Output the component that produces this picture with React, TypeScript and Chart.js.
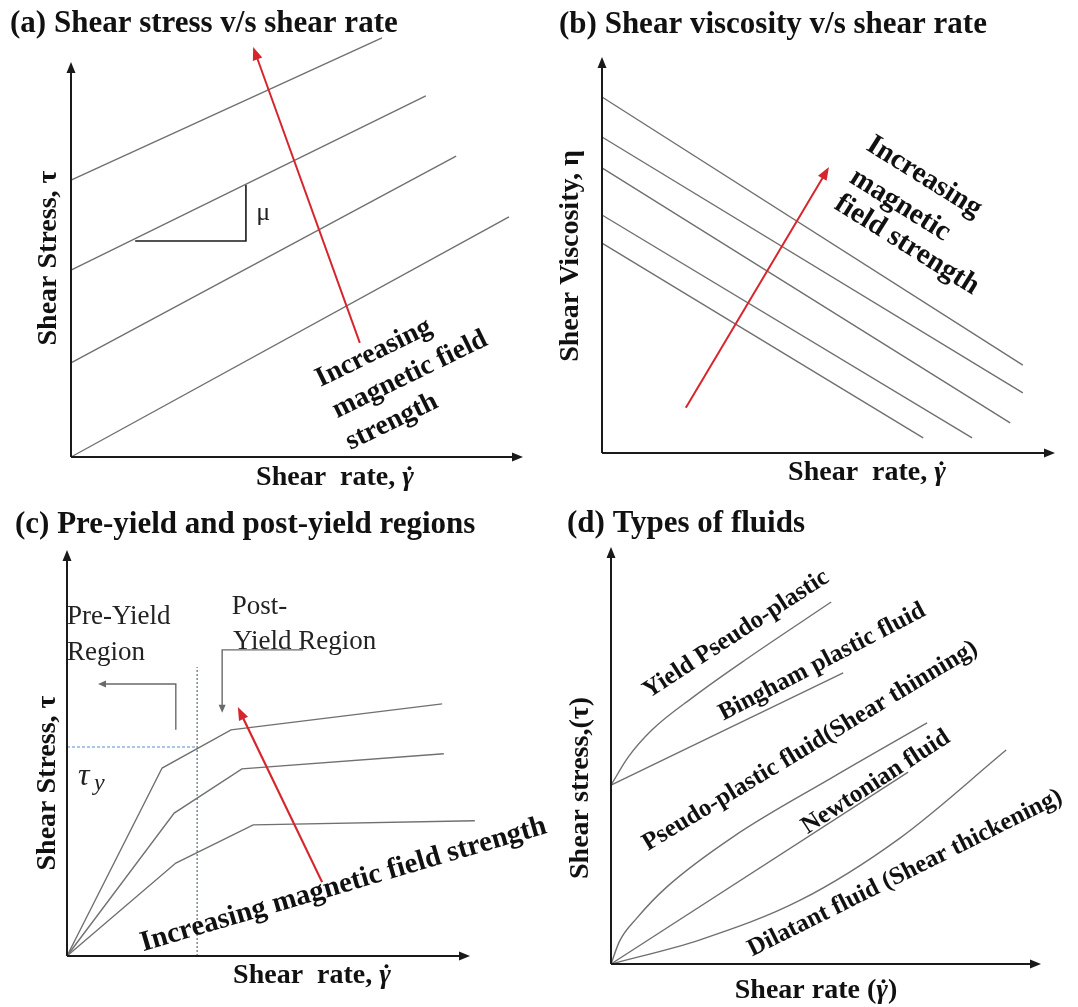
import React, { useEffect, useRef } from "react";
import { Chart, registerables } from "chart.js";
Chart.register(...registerables);

type Pt = [number, number];
type XY = [number, number];

const SERIF = '"Liberation Serif", "Times New Roman", Times, serif';
const LINE = "#707070";
const RED = "#d6262d";
const INK = "#111111";

// ---------------- (a) Shear stress v/s shear rate ----------------
const aTitle = "(a) Shear stress v/s shear rate";
const aYLabel = "Shear Stress, τ";
const aStress: Pt[][] = [
  [[0, 7.01], [6.88, 10.61]],
  [[0, 4.73], [7.85, 9.14]],
  [[0, 2.38], [8.52, 7.62]],
  [[0, 0], [9.69, 6.08]],
];
const aSlope: Pt[] = [[1.42, 5.47], [3.87, 5.47], [3.87, 6.89]];
const aField: Pt[] = [[6.39, 2.89], [4.03, 10.38]];
const aNote = ["Increasing", "magnetic field", "strength"];

// ---------------- (b) Shear viscosity v/s shear rate ----------------
const bTitle = "(b) Shear viscosity v/s shear rate";
const bYLabel = "Shear Viscosity, η";
const bViscosity: Pt[][] = [
  [[0, 8.99], [9.29, 2.22]],
  [[0, 7.98], [9.29, 1.52]],
  [[0, 7.2], [9.01, 0.76]],
  [[0, 6.01], [8.17, 0.38]],
  [[0, 5.3], [7.09, 0.38]],
];
const bField: Pt[] = [[1.85, 1.14], [5.01, 7.22]];
const bNote = ["Increasing", "magnetic", "field strength"];

// ---------------- (c) Pre-yield and post-yield regions ----------------
const cTitle = "(c) Pre-yield and post-yield regions";
const cYLabel = "Shear Stress, τ";
const cStress: Pt[][] = [
  [[0, 0], [2.36, 4.63], [4.07, 5.57], [9.31, 6.21]],
  [[0, 0], [2.66, 3.52], [4.34, 4.61], [9.35, 4.98]],
  [[0, 0], [2.7, 2.29], [4.62, 3.23], [10.12, 3.33]],
];
const cYieldRate: Pt[] = [[3.23, 0], [3.23, 7.12]];
const cYieldStress: Pt[] = [[0, 5.15], [3.23, 5.15]];
const cPreArrow: Pt[] = [[2.7, 5.57], [2.7, 6.7], [0.77, 6.7]];
const cPostArrow: Pt[] = [[5.86, 7.54], [3.85, 7.54], [3.85, 5.99]];
const cField: Pt[] = [[6.33, 1.82], [4.24, 6.13]];
const cPreLabel = ["Pre-Yield", "Region"];
const cPostLabel = ["Post-", "Yield Region"];
const cNote = "Increasing magnetic field strength";

// ---------------- (d) Types of fluids ----------------
const dTitle = "(d) Types of fluids";
const dYLabel = "Shear stress,(τ)";
const dFluids = [
  "Yield Pseudo-plastic",
  "Bingham plastic fluid",
  "Pseudo-plastic fluid(Shear thinning)",
  "Newtonian fluid",
  "Dilatant fluid (Shear thickening)",
];
const dYieldPseudo: Pt[] = [[0, 4.29], [0.4, 4.96], [0.95, 5.61], [1.91, 6.4], [3.12, 7.29], [5.12, 8.68]];
const dBingham: Pt[] = [[0, 4.29], [5.4, 6.98]];
const dPseudo: Pt[] = [[0, 0], [0.2, 0.55], [0.6, 1.1], [1.3, 1.85], [2.84, 3.05], [5.16, 4.48], [7.35, 5.78]];
const dNewtonian: Pt[] = [[0, 0], [6.91, 4.6]];
const dDilatant: Pt[] = [[0, 0], [2.07, 0.58], [4.4, 1.53], [6.72, 3.02], [9.19, 5.13]];

// ---------------- helpers ----------------
const ds = (pts: Pt[], extra: any = {}) => ({
  data: pts.map(([x, y]) => ({ x, y })),
  borderColor: LINE,
  borderWidth: 1.4,
  pointRadius: 0,
  fill: false,
  tension: 0,
  clip: false,
  ...extra,
});
const curve = { cubicInterpolationMode: "monotone" };

function head(ctx: CanvasRenderingContext2D, from: XY, to: XY, len: number, hw: number, color: string) {
  const a = Math.atan2(to[1] - from[1], to[0] - from[0]);
  const bx = to[0] - len * Math.cos(a);
  const by = to[1] - len * Math.sin(a);
  ctx.fillStyle = color;
  ctx.beginPath();
  ctx.moveTo(to[0], to[1]);
  ctx.lineTo(bx + hw * Math.sin(a), by - hw * Math.cos(a));
  ctx.lineTo(bx - hw * Math.sin(a), by + hw * Math.cos(a));
  ctx.closePath();
  ctx.fill();
}

function arrowPath(ctx: CanvasRenderingContext2D, pts: XY[], color: string, lw: number, len: number, hw: number) {
  const n = pts.length;
  const from = pts[n - 2];
  const to = pts[n - 1];
  const a = Math.atan2(to[1] - from[1], to[0] - from[0]);
  const end: XY = [to[0] - (len - 1) * Math.cos(a), to[1] - (len - 1) * Math.sin(a)];
  ctx.strokeStyle = color;
  ctx.lineWidth = lw;
  ctx.setLineDash([]);
  ctx.beginPath();
  ctx.moveTo(pts[0][0], pts[0][1]);
  for (let i = 1; i < n - 1; i++) ctx.lineTo(pts[i][0], pts[i][1]);
  ctx.lineTo(end[0], end[1]);
  ctx.stroke();
  head(ctx, from, to, len, hw, color);
}

function txt(
  ctx: CanvasRenderingContext2D,
  s: string,
  x: number,
  y: number,
  font: string,
  o: { align?: CanvasTextAlign; baseline?: CanvasTextBaseline; rot?: number; color?: string } = {}
) {
  ctx.save();
  ctx.translate(x, y);
  if (o.rot) ctx.rotate((o.rot * Math.PI) / 180);
  ctx.font = font;
  ctx.fillStyle = o.color || INK;
  ctx.textAlign = o.align || "center";
  ctx.textBaseline = o.baseline || "middle";
  ctx.fillText(s, 0, 0);
  ctx.restore();
}

function rateLabel(ctx: CanvasRenderingContext2D, pre: string, post: string, cx: number, by: number, size: number) {
  const fb = `bold ${size}px ${SERIF}`;
  const fi = `italic bold ${size}px ${SERIF}`;
  ctx.save();
  ctx.font = fb;
  const w1 = ctx.measureText(pre).width;
  const w3 = ctx.measureText(post).width;
  ctx.font = fi;
  const w2 = ctx.measureText("γ").width;
  const x = cx - (w1 + w2 + w3) / 2;
  ctx.textAlign = "left";
  ctx.textBaseline = "alphabetic";
  ctx.fillStyle = INK;
  ctx.font = fb;
  ctx.fillText(pre, x, by);
  ctx.font = fi;
  ctx.fillText("γ", x + w1, by);
  ctx.beginPath();
  ctx.arc(x + w1 + w2 * 0.62, by - size * 0.6, size * 0.07, 0, Math.PI * 2);
  ctx.fill();
  ctx.font = fb;
  ctx.fillText(post, x + w1 + w2, by);
  ctx.restore();
}

function yLabel(ctx: CanvasRenderingContext2D, s: string, bx: number, cy: number, size: number) {
  txt(ctx, s, bx, cy, `bold ${size}px ${SERIF}`, { rot: -90, baseline: "alphabetic" });
}

function title(ctx: CanvasRenderingContext2D, s: string, x: number, by: number) {
  txt(ctx, s, x, by, `bold 31px ${SERIF}`, { align: "left", baseline: "alphabetic" });
}

type Px = (x: number, y: number) => XY;

function axes(ctx: CanvasRenderingContext2D, P: Px) {
  arrowPath(ctx, [P(0, 0), P(10, 0)], "#1a1a1a", 2, 11, 4.5);
  arrowPath(ctx, [P(0, 0), P(0, 10)], "#1a1a1a", 2, 11, 4.5);
}

type Spec = {
  left: number;
  top: number;
  width: number;
  height: number;
  pad: { left: number; right: number; top: number; bottom: number };
  datasets: any[];
  draw: (ctx: CanvasRenderingContext2D, P: Px) => void;
};

function Panel({ spec }: { spec: Spec }) {
  const ref = useRef<HTMLCanvasElement>(null);
  useEffect(() => {
    const canvas = ref.current!;
    const chart = new Chart(canvas, {
      type: "line",
      data: { datasets: spec.datasets },
      options: {
        responsive: false,
        animation: false,
        devicePixelRatio: 1,
        events: [],
        layout: { padding: spec.pad },
        plugins: { legend: { display: false }, tooltip: { enabled: false }, title: { display: false } },
        scales: {
          x: { type: "linear", min: 0, max: 10, display: false },
          y: { type: "linear", min: 0, max: 10, display: false },
        },
      } as any,
      plugins: [
        {
          id: "schematic",
          afterDatasetsDraw(ch: any) {
            const ctx = ch.ctx as CanvasRenderingContext2D;
            const P: Px = (x, y) => [ch.scales.x.getPixelForValue(x), ch.scales.y.getPixelForValue(y)];
            ctx.save();
            spec.draw(ctx, P);
            ctx.restore();
          },
        },
      ],
    });
    return () => chart.destroy();
  }, []);
  return (
    <canvas
      ref={ref}
      width={spec.width}
      height={spec.height}
      style={{ position: "absolute", left: spec.left, top: spec.top, width: spec.width, height: spec.height }}
    />
  );
}

const noteFont = (s: number) => `bold ${s}px ${SERIF}`;

const specA: Spec = {
  left: 0,
  top: 0,
  width: 538,
  height: 500,
  pad: { left: 71, right: 15, top: 62, bottom: 43 },
  datasets: [...aStress.map((l) => ds(l)), ds(aSlope, { borderColor: "#1a1a1a", borderWidth: 1.6 })],
  draw: (ctx, P) => {
    axes(ctx, P);
    arrowPath(ctx, [P(...aField[0]), P(...aField[1])], RED, 2, 13, 5);
    txt(ctx, "μ", ...P(4.25, 6.18), `26px ${SERIF}`, { color: "#222" });
    const pos: Pt[] = [[6.7, 2.63], [7.5, 2.08], [7.1, 0.89]];
    aNote.forEach((s, i) => txt(ctx, s, ...P(...pos[i]), noteFont(28), { rot: -26 }));
    title(ctx, aTitle, 10, 32);
    yLabel(ctx, aYLabel, 56, 258, 28);
    rateLabel(ctx, "Shear  rate, ", "", 335, 485, 28);
  },
};

const specB: Spec = {
  left: 538,
  top: 0,
  width: 540,
  height: 500,
  pad: { left: 64, right: 23, top: 57, bottom: 47 },
  datasets: bViscosity.map((l) => ds(l)),
  draw: (ctx, P) => {
    axes(ctx, P);
    arrowPath(ctx, [P(...bField[0]), P(...bField[1])], RED, 2, 13, 5);
    const pos: Pt[] = [[7.11, 6.97], [6.58, 6.26], [6.73, 5.25]];
    bNote.forEach((s, i) => txt(ctx, s, ...P(...pos[i]), noteFont(29), { rot: 32 }));
    title(ctx, bTitle, 21, 33);
    yLabel(ctx, bYLabel, 40, 256, 28);
    rateLabel(ctx, "Shear  rate, ", "", 329, 480, 28);
  },
};

const specC: Spec = {
  left: 0,
  top: 500,
  width: 560,
  height: 507,
  pad: { left: 67, right: 90, top: 50, bottom: 51 },
  datasets: [
    ...cStress.map((l) => ds(l)),
    ds(cYieldRate, { borderColor: "#7d8a9c", borderWidth: 1.5, borderDash: [2, 2] }),
    ds(cYieldStress, { borderColor: "#8fb2de", borderWidth: 1.5, borderDash: [3, 2] }),
  ],
  draw: (ctx, P) => {
    axes(ctx, P);
    arrowPath(ctx, cPreArrow.map(([x, y]) => P(x, y)), "#6a6a6a", 1.4, 8, 3.5);
    arrowPath(ctx, cPostArrow.map(([x, y]) => P(x, y)), "#6a6a6a", 1.4, 8, 3.5);
    arrowPath(ctx, [P(...cField[0]), P(...cField[1])], RED, 2.2, 13, 5);
    const reg = `27px ${SERIF}`;
    txt(ctx, cPreLabel[0], ...P(0, 8.35), reg, { align: "left", color: "#222" });
    txt(ctx, cPreLabel[1], ...P(0, 7.46), reg, { align: "left", color: "#222" });
    txt(ctx, cPostLabel[0], ...P(4.09, 8.6), reg, { align: "left", color: "#222" });
    txt(ctx, cPostLabel[1], ...P(4.12, 7.73), reg, { align: "left", color: "#222" });
    const [tx, ty] = P(0.62, 4.38);
    txt(ctx, "τ", tx - 14, ty - 2, `italic 32px ${SERIF}`, { align: "left", color: "#222" });
    txt(ctx, "y", tx + 2, ty + 6, `italic 24px ${SERIF}`, { align: "left", color: "#222" });
    txt(ctx, cNote, ...P(1.89, 0.12), noteFont(29), { align: "left", baseline: "alphabetic", rot: -16.3 });
    title(ctx, cTitle, 15, 33);
    yLabel(ctx, cYLabel, 55, 283, 28);
    rateLabel(ctx, "Shear  rate, ", "", 312, 483, 28);
  },
};

const specD: Spec = {
  left: 538,
  top: 500,
  width: 540,
  height: 507,
  pad: { left: 73, right: 37, top: 47, bottom: 43 },
  datasets: [
    ds(dYieldPseudo, curve),
    ds(dBingham),
    ds(dPseudo, curve),
    ds(dNewtonian),
    ds(dDilatant, curve),
  ],
  draw: (ctx, P) => {
    axes(ctx, P);
    const pos: Pt[] = [[2.91, 7.91], [4.91, 7.24], [4.63, 5.23], [6.16, 4.36], [6.84, 2.18]];
    const rot = [-33, -27.5, -31, -33, -26.5];
    dFluids.forEach((s, i) => txt(ctx, s, ...P(...pos[i]), noteFont(25), { rot: rot[i] }));
    title(ctx, dTitle, 29, 32);
    yLabel(ctx, dYLabel, 50, 288, 28);
    rateLabel(ctx, "Shear rate (", ")", 278, 498, 28);
  },
};

export default function App() {
  return (
    <div style={{ position: "absolute", left: 0, top: 0, width: 1078, height: 1007, background: "#fff", overflow: "hidden" }}>
      <Panel spec={specA} />
      <Panel spec={specB} />
      <Panel spec={specC} />
      <Panel spec={specD} />
    </div>
  );
}
